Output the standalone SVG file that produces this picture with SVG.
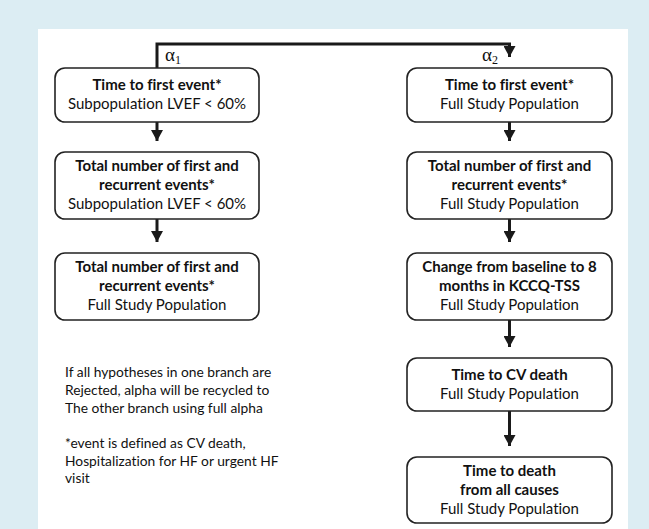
<svg xmlns="http://www.w3.org/2000/svg" width="649" height="529" viewBox="0 0 649 529">
<defs>
<style>
text{font-variant-ligatures:none;font-feature-settings:"liga" 0,"dlig" 0}
.box{fill:#fff;stroke:#222;stroke-width:1.6}
.b{font-family:Lato,"Liberation Sans",sans-serif;font-weight:bold;font-size:15px;fill:#111;text-anchor:middle}
.r{font-family:Lato,"Liberation Sans",sans-serif;font-size:15px;fill:#111;text-anchor:middle}
.n{font-family:Lato,"Liberation Sans",sans-serif;font-size:13.8px;fill:#111}
.a{font-family:"Liberation Serif",serif;font-size:19px;fill:#111}
.c{fill:none;stroke:#1a1a1a;stroke-width:3}
</style>
<marker id="ah" markerUnits="userSpaceOnUse" markerWidth="12" markerHeight="12" viewBox="0 0 12 12" refX="11" refY="6" orient="auto">
<path d="M0,0 L11,6 L0,12 Z" fill="#1a1a1a"/>
</marker>
</defs>
<rect x="0" y="0" width="649" height="529" fill="#dcedf3"/>
<rect x="38" y="29" width="590" height="500" fill="#fff"/>
<g id="connectors">
<path class="c" d="M157,68 V44 H509.5 V57" marker-end="url(#ah)"/>
<line class="c" x1="157" y1="122" x2="157" y2="141" marker-end="url(#ah)"/>
<line class="c" x1="157" y1="219" x2="157" y2="242" marker-end="url(#ah)"/>
<line class="c" x1="509.5" y1="122" x2="509.5" y2="141" marker-end="url(#ah)"/>
<line class="c" x1="509.5" y1="219" x2="509.5" y2="242" marker-end="url(#ah)"/>
<line class="c" x1="509.5" y1="320" x2="509.5" y2="347" marker-end="url(#ah)"/>
<line class="c" x1="509.5" y1="411" x2="509.5" y2="446" marker-end="url(#ah)"/>
</g>
<g id="alpha1"><text class="a" x="165" y="61">α<tspan font-size="12" dy="3">1</tspan></text></g>
<g id="alpha2"><text class="a" x="482" y="61">α<tspan font-size="12" dy="3">2</tspan></text></g>
<g id="L1">
<rect class="box" x="55" y="68" width="204" height="54" rx="10"/>
<text class="b" x="157" y="90">Time to first event*</text>
<text class="r" x="157" y="109">Subpopulation LVEF &lt; 60%</text>
</g>
<g id="L2">
<rect class="box" x="55" y="152" width="204" height="67" rx="10"/>
<text class="b" x="157" y="171">Total number of first and</text>
<text class="b" x="157" y="190">recurrent events*</text>
<text class="r" x="157" y="209">Subpopulation LVEF &lt; 60%</text>
</g>
<g id="L3">
<rect class="box" x="55" y="253" width="204" height="67" rx="10"/>
<text class="b" x="157" y="272">Total number of first and</text>
<text class="b" x="157" y="291">recurrent events*</text>
<text class="r" x="157" y="310">Full Study Population</text>
</g>
<g id="R1">
<rect class="box" x="407" y="68" width="205" height="54" rx="10"/>
<text class="b" x="509.5" y="90">Time to first event*</text>
<text class="r" x="509.5" y="109">Full Study Population</text>
</g>
<g id="R2">
<rect class="box" x="407" y="152" width="205" height="67" rx="10"/>
<text class="b" x="509.5" y="171">Total number of first and</text>
<text class="b" x="509.5" y="190">recurrent events*</text>
<text class="r" x="509.5" y="209">Full Study Population</text>
</g>
<g id="R3">
<rect class="box" x="407" y="253" width="205" height="67" rx="10"/>
<text class="b" x="509.5" y="272">Change from baseline to 8</text>
<text class="b" x="509.5" y="291">months in KCCQ-TSS</text>
<text class="r" x="509.5" y="310">Full Study Population</text>
</g>
<g id="R4">
<rect class="box" x="407" y="358" width="205" height="53" rx="10"/>
<text class="b" x="509.5" y="380">Time to CV death</text>
<text class="r" x="509.5" y="399">Full Study Population</text>
</g>
<g id="R5">
<rect class="box" x="407" y="457" width="205" height="66" rx="10"/>
<text class="b" x="509.5" y="476">Time to death</text>
<text class="b" x="509.5" y="495">from all causes</text>
<text class="r" x="509.5" y="514">Full Study Population</text>
</g>
<g id="notes">
<text class="n" x="65" y="377">If all hypotheses in one branch are</text>
<text class="n" x="65" y="395">Rejected, alpha will be recycled to</text>
<text class="n" x="65" y="413">The other branch using full alpha</text>
<text class="n" x="65" y="448">*event is defined as CV death,</text>
<text class="n" x="65" y="466">Hospitalization for HF or urgent HF</text>
<text class="n" x="65" y="483">visit</text>
</g>
</svg>
